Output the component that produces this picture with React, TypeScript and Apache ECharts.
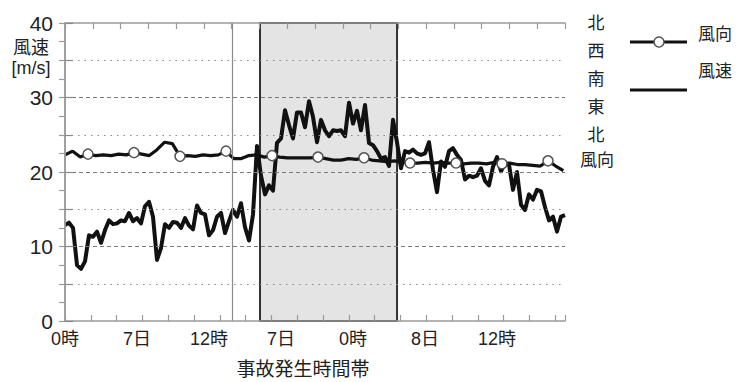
import React, { useEffect, useRef } from "react";
import * as echarts from "echarts";

// ---- data ----
const SPEED_STEP_H = 1 / 3; // hours between wind-speed samples
const windSpeed = [
  12.9, 13.2, 12.5, 7.5, 7.0, 8.0, 11.5, 11.3, 12.0, 10.5,
  12.2, 13.5, 13.0, 13.1, 13.5, 13.4, 14.5, 13.4, 13.8, 13.1,
  15.4, 16.0, 14.0, 8.2, 9.8, 13.0, 12.5, 13.3, 13.2, 12.5,
  13.8, 12.8, 12.3, 15.5, 14.5, 14.3, 11.5, 12.2, 14.0, 14.5,
  11.8, 13.4, 14.9, 14.0, 15.8, 12.6, 10.8, 14.3, 23.5, 19.5,
  17.0, 18.2, 17.5, 23.9, 24.5, 28.3, 26.3, 24.5, 28.0, 28.0,
  26.0, 29.5, 27.4, 24.0, 27.0, 25.6, 24.8, 25.6, 25.5, 25.6,
  24.8, 29.3, 26.5, 28.2, 25.6, 29.0, 23.9, 23.6, 22.8, 21.8,
  22.0, 20.8, 27.0, 24.0, 20.5, 22.8, 22.6, 23.0, 22.5, 22.3,
  22.5, 24.0, 20.3, 17.3, 21.4, 20.7, 22.8, 23.2, 22.3, 21.6,
  19.0, 19.5, 19.3, 19.5, 20.5, 18.8, 18.2, 20.7, 22.0, 20.1,
  21.2, 21.0, 17.6, 20.0, 15.6, 14.9, 17.0, 16.3, 17.6, 17.4,
  15.3, 13.5, 14.0, 12.0, 14.0, 14.2,
];

const DIR_STEP_H = 23 / 36; // hours between wind-direction samples
const windDirection = [
  22.3, 22.8, 22.0, 22.4, 22.2, 22.3, 22.2, 22.4, 22.3, 22.6,
  22.4, 22.2, 23.0, 24.0, 23.8, 22.1, 22.2, 22.1, 22.3, 22.2,
  22.3, 22.8, 21.8, 21.8, 22.2, 22.3, 22.0, 22.2, 22.0, 21.9,
  21.9, 21.9, 21.9, 22.0, 21.8, 21.6, 21.6, 21.8, 21.7, 21.9,
  21.6, 21.5, 21.4, 21.5, 21.3, 21.2, 21.2, 21.3, 21.2, 21.3,
  21.2, 21.2, 21.1, 21.2, 21.2, 21.1, 21.3, 21.1, 21.2, 21.0,
  21.0, 20.9, 20.8, 21.5, 20.8, 20.2,
];
const MARKER_START = 3;
const MARKER_EVERY = 6;

const X_MAX_H = 500 / 12;
const xTickLabels = ["0時", "7日", "12時", "7日", "0時", "8日", "12時"]; // every 6 h
const yMajor = [10, 20, 30];
const yMinor = [5, 15, 25, 35];
const directionLabels = ["北", "西", "南", "東", "北"];
const incidentBand = [16.25, 27.67];
const referenceTime = 13.9;

const NUM_FONT = "'Liberation Sans', Arial, 'Noto Sans CJK JP', sans-serif";
const CJK_FONT = "'Noto Sans CJK JP', 'Liberation Sans', sans-serif";

export default function App() {
  const ref = useRef<HTMLDivElement>(null);

  useEffect(() => {
    if (!ref.current) return;
    const chart = echarts.init(ref.current, null, { renderer: "svg" });

    const speedData = windSpeed.map((v, i) => [i * SPEED_STEP_H, v]);
    const dirData = windDirection.map((v, j) => ({
      value: [j * DIR_STEP_H, v],
      symbol:
        j >= MARKER_START && (j - MARKER_START) % MARKER_EVERY === 0
          ? "circle"
          : "none",
    }));

    const axisGray = "#9a9a9a";
    const graphics: any[] = [];
    // y-axis name
    graphics.push({
      type: "text", x: 31, y: 46, z: 100,
      style: { text: "風速", font: `18px ${CJK_FONT}`, fill: "#222", align: "center", verticalAlign: "middle" },
    });
    graphics.push({
      type: "text", x: 31, y: 68, z: 100,
      style: { text: "[m/s]", font: `18px ${NUM_FONT}`, fill: "#222", align: "center", verticalAlign: "middle" },
    });
    // right direction labels
    directionLabels.forEach((t, k) => {
      graphics.push({
        type: "text", x: 596, y: 21 + k * 28, z: 100,
        style: { text: t, font: `17px ${CJK_FONT}`, fill: "#222", align: "center", verticalAlign: "middle" },
      });
    });
    graphics.push({
      type: "text", x: 597, y: 158, z: 100,
      style: { text: "風向", font: `17px ${CJK_FONT}`, fill: "#222", align: "center", verticalAlign: "middle" },
    });
    // x-axis name
    graphics.push({
      type: "text", x: 303, y: 367, z: 100,
      style: { text: "事故発生時間帯", font: `19px ${CJK_FONT}`, fill: "#222", align: "center", verticalAlign: "middle" },
    });
    // legend
    graphics.push({
      type: "line", z: 100, shape: { x1: 630, y1: 42, x2: 687, y2: 42 },
      style: { stroke: "#111", lineWidth: 2.8 },
    });
    graphics.push({
      type: "circle", z: 101, shape: { cx: 659, cy: 42, r: 5 },
      style: { fill: "#fff", stroke: "#555", lineWidth: 1.5 },
    });
    graphics.push({
      type: "text", x: 698, y: 32, z: 100,
      style: { text: "風向", font: `17px ${CJK_FONT}`, fill: "#222", align: "left", verticalAlign: "middle" },
    });
    graphics.push({
      type: "text", x: 698, y: 69, z: 100,
      style: { text: "風速", font: `17px ${CJK_FONT}`, fill: "#222", align: "left", verticalAlign: "middle" },
    });
    graphics.push({
      type: "line", z: 100, shape: { x1: 630, y1: 90, x2: 687, y2: 90 },
      style: { stroke: "#111", lineWidth: 3.2 },
    });

    const gridLineData: any[] = [
      ...yMajor.map((v) => ({
        yAxis: v,
        lineStyle: { color: "#7a7a7a", width: 1.2, type: [4, 3] },
      })),
      ...yMinor.map((v) => ({
        yAxis: v,
        lineStyle: { color: "#8a8a8a", width: 1.2, type: [1.5, 5] },
      })),
      {
        xAxis: referenceTime,
        lineStyle: { color: "#8a8a8a", width: 1.2, type: "solid" },
      },
    ];

    chart.setOption({
      animation: false,
      backgroundColor: "#fff",
      grid: { left: 65, top: 23, width: 500, height: 298, containLabel: false },
      xAxis: [
        {
          type: "value", min: 0, max: X_MAX_H, interval: 6, position: "bottom", z: 5,
          axisLine: { show: true, lineStyle: { color: axisGray, width: 1.5 } },
          axisTick: { show: false },
          splitLine: { show: false },
          axisLabel: {
            show: true, margin: 9, showMaxLabel: false,
            color: "#222", fontSize: 18, fontFamily: NUM_FONT,
            formatter: (v: number) => {
              const k = Math.round(v / 6);
              return Math.abs(v - k * 6) < 1e-6 && k < xTickLabels.length ? xTickLabels[k] : "";
            },
          },
        },
        {
          type: "value", min: 0, max: 500 / 25.8, interval: 1, position: "bottom", z: 5,
          axisLine: { show: false },
          axisTick: { show: true, inside: true, length: 6, lineStyle: { color: axisGray, width: 1.2 } },
          axisLabel: { show: false },
          splitLine: { show: false },
        },
        {
          type: "value", min: 0, max: 18, interval: 1, position: "top", z: 5,
          axisLine: { show: true, lineStyle: { color: axisGray, width: 1.5 } },
          axisTick: { show: true, inside: true, length: 6, lineStyle: { color: axisGray, width: 1.2 } },
          axisLabel: { show: false },
          splitLine: { show: false },
        },
      ],
      yAxis: [
        {
          type: "value", min: 0, max: 40, interval: 5, position: "left", z: 5,
          axisLine: { show: true, lineStyle: { color: axisGray, width: 1.5 } },
          axisTick: { show: true, inside: true, length: 8, lineStyle: { color: "#888", width: 1.2 } },
          splitLine: { show: false },
          axisLabel: {
            margin: 12, color: "#222", fontSize: 21, fontFamily: NUM_FONT,
            formatter: (v: number) => (v % 10 === 0 ? String(v) : ""),
          },
        },
        {
          type: "value", min: 0, max: 40, interval: 2.5, position: "right", z: 5,
          axisLine: { show: true, lineStyle: { color: axisGray, width: 1.5 } },
          axisTick: { show: true, inside: true, length: 6, lineStyle: { color: axisGray, width: 1.2 } },
          splitLine: { show: false },
          axisLabel: { show: false },
        },
      ],
      graphic: graphics,
      series: [
        {
          name: "band", type: "line", xAxisIndex: 0, yAxisIndex: 0, z: 0, silent: true,
          data: speedData, symbol: "none", lineStyle: { opacity: 0 },
          markArea: {
            silent: true,
            itemStyle: { color: "#e4e4e4", borderColor: "#333", borderWidth: 2 },
            data: [[{ xAxis: incidentBand[0] }, { xAxis: incidentBand[1] }]],
          },
        },
        {
          name: "grid", type: "line", xAxisIndex: 0, yAxisIndex: 0, z: 1, silent: true,
          data: speedData, symbol: "none", lineStyle: { opacity: 0 },
          markLine: {
            silent: true, symbol: ["none", "none"], label: { show: false },
            data: gridLineData,
          },
        },
        {
          name: "風速", type: "line", xAxisIndex: 0, yAxisIndex: 0, z: 3,
          data: speedData, symbol: "none",
          lineStyle: { color: "#111", width: 4, join: "round" },
        },
        {
          name: "風向", type: "line", xAxisIndex: 0, yAxisIndex: 0, z: 4,
          data: dirData, symbol: "circle", symbolSize: 10, showSymbol: true, showAllSymbol: true,
          lineStyle: { color: "#111", width: 3.2 },
          itemStyle: { color: "#fff", borderColor: "#555", borderWidth: 1.5 },
        },
      ],
    });

    return () => chart.dispose();
  }, []);

  return (
    <div
      ref={ref}
      style={{ position: "absolute", left: 0, top: 0, width: 740, height: 382, background: "#fff" }}
    />
  );
}
